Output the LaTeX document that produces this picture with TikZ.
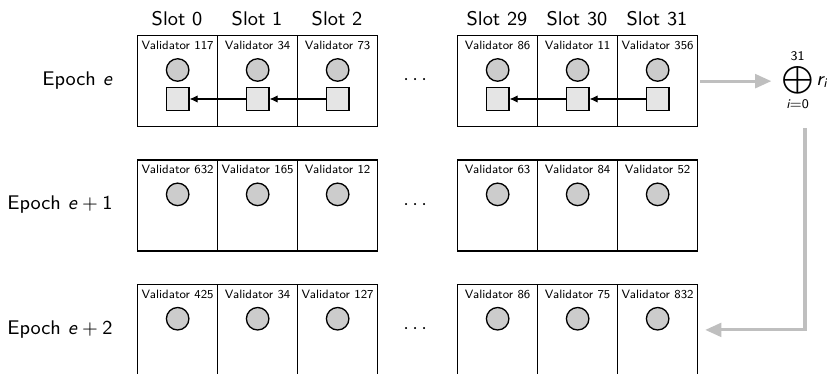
\documentclass[tikz,border=0pt]{standalone}
\usepackage{amsmath}
\usetikzlibrary{arrows.meta}

\begin{document}
\begin{tikzpicture}[
  font=\sffamily\small,
  cell/.style   = {draw, line width=0.6pt, minimum width=1.28cm, minimum height=1.456cm,
                   inner sep=0pt, anchor=north west},
  who/.style    = {font=\sffamily\fontsize{5.5}{6.5}\selectfont, anchor=north, inner sep=2.6pt},
  vote/.style   = {circle, draw, line width=0.6pt, fill=gray!40, minimum size=0.36cm, inner sep=0pt},
  blk/.style    = {draw, line width=0.6pt, fill=gray!20, minimum size=0.36cm, inner sep=0pt},
  link/.style   = {-{Latex[length=1.3mm,width=1.2mm]}, line width=0.5pt},
  feed/.style   = {-{Triangle[length=2.6mm,width=2.2mm]}, line width=1.4pt, draw=black!25},
  slothdr/.style  = {font=\sffamily\small},
  epochhdr/.style = {font=\sffamily\small, anchor=east, inner sep=0pt},
]

\def\cw{1.28}   % cell width
\def\ch{1.456}  % cell height
\def\rs{1.99}   % row pitch, one row per epoch

\useasboundingbox (-2.192, 0.56) rectangle (11.04, -5.424);

% ---- slot headers ----------------------------------------------------------
\foreach \col/\slot in {0/0, 1/1, 2/2, 4/29, 5/30, 6/31}
  \node[slothdr] (s-\col) at ({(\col+0.5)*\cw}, 0.256) {Slot \slot};

% ---- epoch headers ---------------------------------------------------------
\foreach \row/\ep in {0/{\textit{e}}, 1/{\textit{e}${}+{}$1}, 2/{\textit{e}${}+{}$2}}
  \node[epochhdr] (ep-\row) at (-0.384, {-\row*\rs-\ch/2}) {Epoch \ep};

% ---- slots: proposer and vote per cell -------------------------------------
\foreach \row/\ids in {0/{117,34,73,86,11,356},
                       1/{632,165,12,63,84,52},
                       2/{425,34,127,86,75,832}} {
  \foreach \id [count=\k] in \ids {
    \pgfmathtruncatemacro\col{\k<4 ? \k-1 : \k}
    \node[cell] (c-\row-\col) at ({\col*\cw}, {-\row*\rs}) {};
    \node[who]  (n-\row-\col) at (c-\row-\col.north) {Validator \id};
    \node[vote] (v-\row-\col) at ([yshift=-0.56cm]c-\row-\col.north) {};
  }
  \node (dots-\row) at ({3.5*\cw}, {-\row*\rs-\ch/2}) {$\cdots$};
}

% ---- blocks of epoch e, each one pointing at its parent --------------------
\foreach \col in {0, 1, 2, 4, 5, 6}
  \node[blk] (b-\col) at ([yshift=-1.024cm]c-0-\col.north) {};
\foreach \a/\b in {1/0, 2/1, 5/4, 6/5}
  \draw[link] (b-\a) -- (b-\b);

% ---- randomness mix feeds the epoch after next -----------------------------
\node[anchor=west] (sum) at (10.2, -0.728)
  {$\displaystyle\bigoplus_{\textit{i}=\textsf{0}}^{\textsf{31}} \textit{r}_{\textit{i}}$};
\draw[feed, shorten <=0.03cm, shorten >=0.05cm] (c-0-6.east) -- (c-0-6.east -| sum.west);
\draw[feed, shorten <=0.15cm, shorten >=0.11cm] (sum.south) |- (c-2-6.east);

\end{tikzpicture}
\end{document}
